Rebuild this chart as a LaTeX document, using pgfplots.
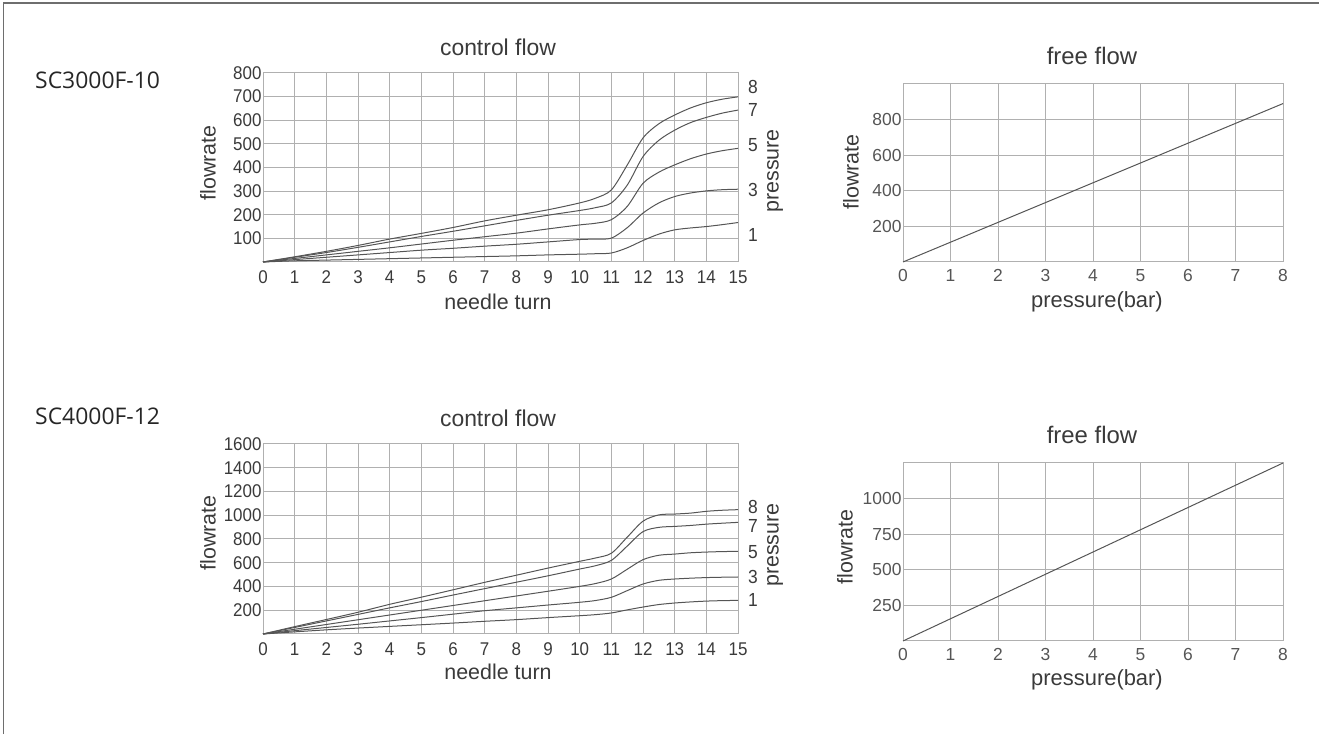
\documentclass[border=0pt]{standalone}
\usepackage{pgfplots}
\pgfplotsset{compat=1.18}
\usepackage{fontspec}
\setmainfont{Liberation Sans}
\newfontfamily\narrowsans{Liberation Sans}[FakeStretch=0.92]
\newfontfamily\scfont{Open Sans}
\definecolor{gridc}{HTML}{B0B0B0}
\definecolor{txt}{HTML}{3A3A3A}
\definecolor{tck}{HTML}{555555}
\definecolor{crv}{HTML}{555555}
\definecolor{frame}{HTML}{6E6E6E}

\pgfplotsset{
  base/.style={scale only axis, anchor=south west, clip=false,
    grid=major, major grid style={gridc, line width=1bp},
    axis line style={gridc, line width=1bp},
    major tick length=0pt,
    /pgf/number format/assume math mode=true,
    /pgf/number format/1000 sep={},
    yticklabel style={xshift=2bp}},
  ctrl/.style={base, width=475bp, height=189bp,
    xmin=0, xmax=15, xtick={0,...,15},
    ticklabel style={text=txt, font=\narrowsans\fontsize{18.5}{18.5}\selectfont},
    xticklabel style={yshift=-5bp}},
  free/.style={base, width=380bp, height=178bp,
    xmin=0, xmax=8, xtick={0,...,8}, ymin=0,
    ticklabel style={text=tck, font=\fontsize{17.5}{17.5}\selectfont},
    xticklabel style={yshift=-4bp}},
  cv/.style={crv, line width=1bp, smooth, no marks},
}
\tikzset{
  plab/.style={anchor=west, inner sep=0pt, xshift=10bp, text=txt,
    font=\narrowsans\fontsize{19}{19}\selectfont},
  lab/.style={inner sep=0pt, text=txt, font=\fontsize{21.5}{21.5}\selectfont},
  ttl/.style={inner sep=0pt, text=txt, font=\fontsize{23}{23}\selectfont},
}

\begin{document}
\begin{tikzpicture}[x=1bp, y=1bp]
\useasboundingbox (0,0) rectangle (1319,734);
\draw[frame, line width=1.5bp] (3.5,0) -- (3.5,731) -- (1319,731);

% SC3000F-10, control flow
\begin{axis}[ctrl, at={(263bp,472bp)}, ymin=0, ymax=800, ytick={100,200,...,800}]
\addplot[cv] coordinates {(0,0) (1,22) (2,45) (3,70) (4,97) (5,121) (6,146) (7,174) (8,198) (9,221) (10,250) (10.5,270) (11,305) (11.5,410) (12,525) (12.5,585) (13,622) (13.5,652) (14,674) (14.5,689) (15,699)};
\addplot[cv] coordinates {(0,0) (1,20) (2,40) (3,62) (4,85) (5,108) (6,130) (7,153) (8,176) (9,198) (10,218) (10.5,230) (11,250) (11.5,325) (12,446) (12.5,515) (13,558) (13.5,590) (14,612) (14.5,630) (15,643)};
\addplot[cv] coordinates {(0,0) (1,15) (2,30) (3,45) (4,60) (5,76) (6,92) (7,107) (8,122) (9,140) (10,157) (10.5,164) (11,179) (11.5,235) (12,333) (12.5,380) (13,411) (13.5,437) (14,457) (14.5,471) (15,481)};
\addplot[cv] coordinates {(0,0) (1,10) (2,20) (3,30) (4,40) (5,50) (6,58) (7,67) (8,75) (9,85) (10,95) (10.5,97) (11,101) (11.5,145) (12,207) (12.5,250) (13,277) (13.5,292) (14,301) (14.5,306) (15,308)};
\addplot[cv] coordinates {(0,0) (1,5) (2,8) (3,11) (4,14) (5,17) (6,20) (7,23) (8,26) (9,30) (10,33) (10.5,35) (11,38) (11.5,60) (12,91) (12.5,118) (13,136) (13.5,144) (14,150) (14.5,158) (15,167)};
\node[plab] at (axis cs:15,741) {8};
\node[plab] at (axis cs:15,643) {7};
\node[plab] at (axis cs:15,495) {5};
\node[plab] at (axis cs:15,305) {3};
\node[plab] at (axis cs:15,114) {1};
\end{axis}

% SC3000F-10, free flow
\begin{axis}[free, at={(903bp,472bp)}, ymax=1000, ytick={200,400,600,800}]
\addplot[crv, line width=1bp, no marks] coordinates {(0,0) (8,890)};
\end{axis}

% SC4000F-12, control flow
\begin{axis}[ctrl, at={(263bp,100bp)}, height=190bp, ymin=0, ymax=1600, ytick={200,400,...,1600}]
\addplot[cv] coordinates {(0,0) (1,62) (2,122) (3,183) (4,250) (5,310) (6,372) (7,435) (8,495) (9,555) (10,612) (10.5,640) (11,680) (11.5,815) (12,950) (12.5,1003) (13,1010) (13.5,1018) (14,1033) (14.5,1042) (15,1047)};
\addplot[cv] coordinates {(0,0) (1,55) (2,110) (3,165) (4,220) (5,273) (6,328) (7,382) (8,436) (9,490) (10,547) (10.5,575) (11,620) (11.5,740) (12,862) (12.5,898) (13,906) (13.5,914) (14,925) (14.5,933) (15,940)};
\addplot[cv] coordinates {(0,0) (1,40) (2,80) (3,120) (4,160) (5,200) (6,240) (7,280) (8,320) (9,360) (10,401) (10.5,425) (11,463) (11.5,545) (12,626) (12.5,663) (13,673) (13.5,684) (14,690) (14.5,694) (15,696)};
\addplot[cv] coordinates {(0,0) (1,28) (2,55) (3,82) (4,110) (5,138) (6,167) (7,196) (8,220) (9,244) (10,267) (10.5,282) (11,309) (11.5,365) (12,421) (12.5,452) (13,463) (13.5,470) (14,475) (14.5,478) (15,480)};
\addplot[cv] coordinates {(0,0) (1,18) (2,35) (3,50) (4,64) (5,78) (6,92) (7,107) (8,121) (9,138) (10,154) (10.5,163) (11,177) (11.5,203) (12,227) (12.5,248) (13,261) (13.5,270) (14,277) (14.5,281) (15,283)};
\node[plab] at (axis cs:15,1069) {8};
\node[plab] at (axis cs:15,909) {7};
\node[plab] at (axis cs:15,691) {5};
\node[plab] at (axis cs:15,480) {3};
\node[plab] at (axis cs:15,286) {1};
\end{axis}

% SC4000F-12, free flow
\begin{axis}[free, at={(903bp,93bp)}, ymax=1250, ytick={250,500,750,1000}]
\addplot[crv, line width=1bp, no marks] coordinates {(0,0) (8,1250)};
\end{axis}

% texts
\node[anchor=west, inner sep=0pt, text=black!85, font=\scfont\fontsize{23}{23}\selectfont] at (35,654) {SC3000F-10};
\node[anchor=west, inner sep=0pt, text=black!85, font=\scfont\fontsize{23}{23}\selectfont] at (35,318) {SC4000F-12};

\node[ttl] at (498,687) {control flow};
\node[lab, rotate=90] at (208,571) {flowrate};
\node[lab] at (498,432) {needle turn};
\node[lab, rotate=90] at (775,563) {pressure};

\node[ttl] at (498,316) {control flow};
\node[lab, rotate=90] at (208,201) {flowrate};
\node[lab] at (498,62) {needle turn};
\node[lab, rotate=90] at (775,189) {pressure};

\node[ttl, font=\fontsize{24}{24}\selectfont] at (1092,678) {free flow};
\node[lab, rotate=90] at (851,562) {flowrate};
\node[lab, font=\fontsize{22}{22}\selectfont] at (1097,432) {pressure(bar)};

\node[ttl, font=\fontsize{24}{24}\selectfont] at (1092,299) {free flow};
\node[lab, rotate=90] at (845,187) {flowrate};
\node[lab, font=\fontsize{22}{22}\selectfont] at (1097,54) {pressure(bar)};
\end{tikzpicture}
\end{document}
